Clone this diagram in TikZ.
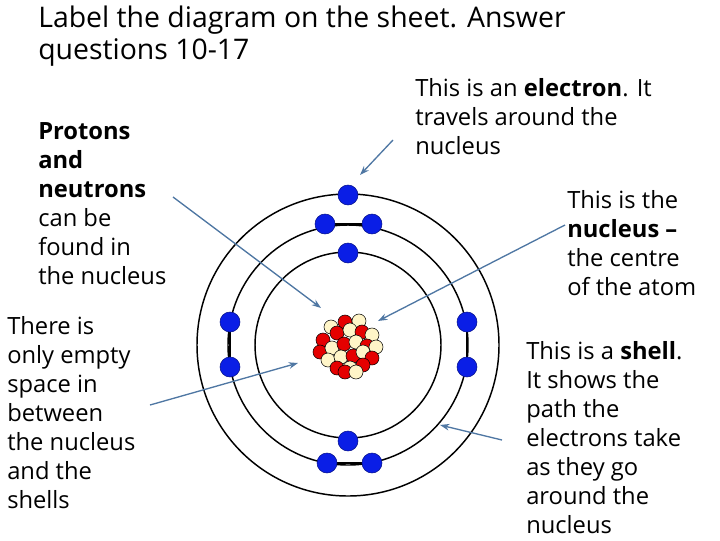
\documentclass[tikz,border=0pt]{standalone}
\usepackage{fontspec}
\setmainfont{Open Sans}
\usetikzlibrary{arrows.meta}
\begin{document}
\begin{tikzpicture}[x=0.75pt,y=-0.75pt,
  lbl/.style={anchor=north west,align=left,inner sep=0pt,font=\fontsize{17.8}{21.75}\selectfont},
  ptr/.style={draw=arrowblue,line width=1pt,-{Stealth[length=7pt,width=5pt]}},
  ring/.style={draw=black,line width=1.1pt},
  el/.style={circle,fill=elblue,draw=elblue!60!black,line width=0.4pt,minimum size=15pt,inner sep=0pt},
  pr/.style={circle,fill=red!90!black,draw=black,line width=0.4pt,minimum size=10.5pt,inner sep=0pt},
  nt/.style={circle,fill=cream,draw=black,line width=0.4pt,minimum size=10.5pt,inner sep=0pt}]
\definecolor{arrowblue}{HTML}{4F77A3}
\definecolor{elblue}{HTML}{0A1EE6}
\definecolor{cream}{HTML}{FFF5C8}
\useasboundingbox (0,0) rectangle (720,540);
\coordinate (c) at (348,345);
\draw[ring] (c) circle (93);
\draw[ring] (c) circle (120);
\draw[ring] (c) circle (151);
\draw[ring] (325,224) -- (372,224) (327,463) -- (372,463) (230,322) -- (230,367) (467,322) -- (467,367);
\foreach \p/\n in {{(348,195)}/e1,{(325,224)}/e2,{(372,224)}/e3,{(348,253)}/e4,{(230,322)}/e5,{(230,367)}/e6,{(467,322)}/e7,{(467,367)}/e8,{(348,441)}/e9,{(327,463)}/e10,{(372,463)}/e11}
  \node[el] (\n) at \p {};
% nucleus
\node[nt] at (331,327) {}; \node[pr] at (345,322) {}; \node[nt] at (359,321) {};
\node[pr] at (323,340) {}; \node[pr] at (337,333) {}; \node[nt] at (350,330) {}; \node[pr] at (362,332) {}; \node[nt] at (372,335) {};
\node[pr] at (320,352) {}; \node[nt] at (332,348) {}; \node[pr] at (344,344) {}; \node[nt] at (356,342) {}; \node[pr] at (367,346) {}; \node[nt] at (376,347) {};
\node[nt] at (328,360) {}; \node[nt] at (341,357) {}; \node[pr] at (353,356) {}; \node[nt] at (363,352) {}; \node[pr] at (372,358) {};
\node[pr] at (337,368) {}; \node[nt] at (350,368) {}; \node[pr] at (363,365) {};
\node[pr] at (345,372) {}; \node[nt] at (356,372) {};
\coordinate (nucl) at (348,345);
% labels
\node[anchor=north west,align=left,inner sep=0pt,font=\fontsize{21.3}{24}\selectfont] (title) at (38,6) {Label the diagram on the sheet. Answer\\questions 10-17};
\node[lbl] (prot) at (38,122) {\textbf{Protons}\\\textbf{and}\\\textbf{neutrons}\\can be\\found in\\the nucleus};
\node[lbl] (empty) at (7,316) {There is\\only empty\\space in\\between\\the nucleus\\and the\\shells};
\node[lbl] (elec) at (415,78) {This is an \textbf{electron}. It\\travels around the\\nucleus};
\node[lbl] (nuc) at (567,190) {This is the\\\textbf{nucleus --}\\the centre\\of the atom};
\node[lbl] (shell) at (526,341) {This is a \textbf{shell}.\\It shows the\\path the\\electrons take\\as they go\\around the\\nucleus};
\coordinate (a1s) at (173,197); \coordinate (a1e) at (321,308);
\coordinate (a2s) at (393,140); \coordinate (a2e) at (360,175);
\coordinate (a3s) at (565,225); \coordinate (a3e) at (378,321);
\coordinate (a4s) at (150,405); \coordinate (a4e) at (298,363);
\coordinate (a5s) at (502,440); \coordinate (a5e) at (440,425);
\draw[ptr] (a1s) -- (a1e);
\draw[ptr] (a2s) -- (a2e);
\draw[ptr] (a3s) -- (a3e);
\draw[ptr] (a4s) -- (a4e);
\draw[ptr] (a5s) -- (a5e);
\end{tikzpicture}
\end{document}
